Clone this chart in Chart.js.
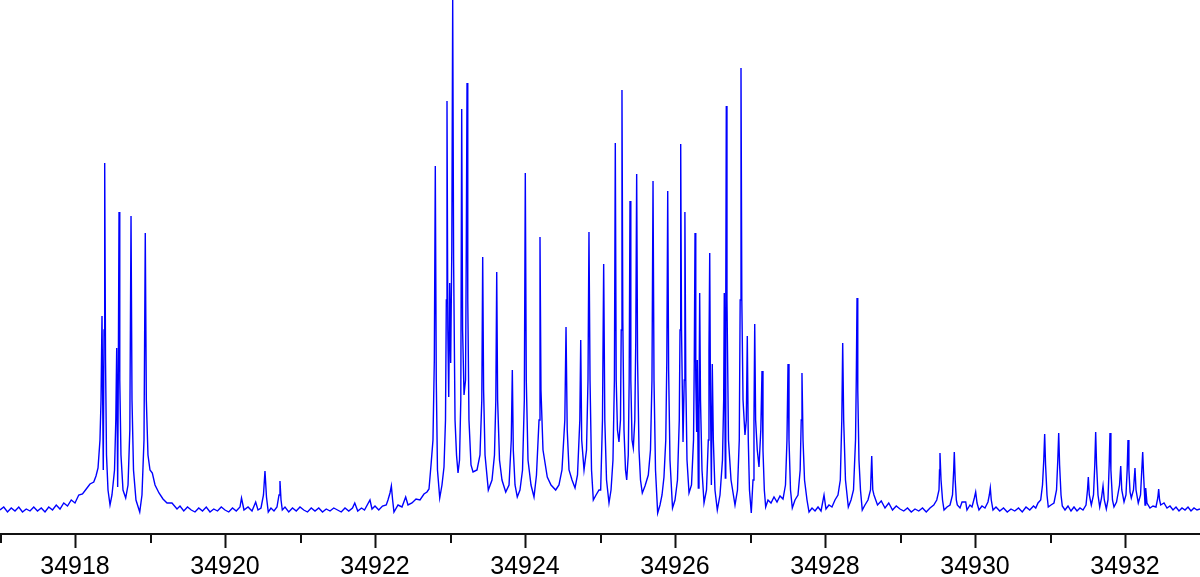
<!DOCTYPE html>
<html>
<head>
<meta charset="utf-8">
<script src="https://cdn.jsdelivr.net/npm/chart.js@4"></script>
<style>
  html, body { margin: 0; padding: 0; background: #fff; }
  #wrap { width: 1200px; height: 577px; position: relative; }
</style>
</head>
<body>
<div id="wrap"><canvas id="chart"></canvas></div>
<script>
// wavenumber (cm-1), intensity (a.u.)
const band1 = [
  [34917.00,24],[34917.05,27],[34917.10,22],[34917.15,26],[34917.20,23],[34917.25,27],[34917.30,22],
  [34917.35,25],[34917.40,23],[34917.45,27],[34917.50,23],[34917.55,26],[34917.60,22],[34917.65,27],
  [34917.70,24],[34917.75,29],[34917.80,25],[34917.85,31],[34917.90,28],[34917.95,34],[34918.00,31],
  [34918.05,39],[34918.10,40],[34918.15,45],[34918.20,50],[34918.25,52],[34918.280,58],[34918.307,66],
  [34918.333,94],[34918.347,134],[34918.360,218],[34918.377,64],[34918.387,204],[34918.396,371],
  [34918.407,174],[34918.420,79],[34918.440,44],[34918.467,29],[34918.493,39],[34918.527,64],
  [34918.544,114],[34918.556,186],[34918.569,47],[34918.577,154],[34918.587,322],[34918.597,154],
  [34918.613,79],[34918.640,44],[34918.676,36],[34918.707,49],[34918.731,104],[34918.747,318],
  [34918.760,134],[34918.780,64],[34918.813,34],[34918.863,22],[34918.893,39],[34918.920,94],
  [34918.937,301],[34918.951,134],[34918.973,79],[34919.000,64],[34919.031,61],[34919.067,49],
  [34919.120,41],[34919.173,35],[34919.227,31],[34919.293,31],[34919.360,25],[34919.40,28],
  [34919.45,23],[34919.50,27],[34919.55,24],[34919.60,22],[34919.65,26],[34919.70,23],[34919.75,27],
  [34919.80,22],[34919.85,25],[34919.90,23],[34919.95,27],[34920.00,24],[34920.05,22],[34920.10,26],
  [34920.15,23],[34920.20,27],[34920.22,36]
];

const band2 = [
  [34920.253,24],[34920.307,27],[34920.360,23],[34920.409,32],[34920.440,24],[34920.480,26],
  [34920.513,39],[34920.533,63],[34920.553,37],[34920.577,22],[34920.613,26],[34920.653,23],
  [34920.693,27],[34920.720,39],[34920.733,53],[34920.747,34],[34920.764,24],[34920.80,27],
  [34920.85,22],[34920.90,26],[34920.95,23],[34921.00,27],[34921.05,24],[34921.10,22],[34921.15,26],
  [34921.20,23],[34921.25,26],[34921.30,22],[34921.35,25],[34921.40,23],[34921.45,26],[34921.50,24],
  [34921.55,22],[34921.60,26],[34921.65,23],[34921.70,26],[34921.73,31],[34921.77,23],[34921.82,26],
  [34921.86,24],[34921.933,34],[34921.96,25],[34922.00,28],[34922.05,24],[34922.10,28],[34922.15,29],
  [34922.173,34],[34922.200,41],[34922.218,48],[34922.235,34],[34922.253,22],[34922.307,29],
  [34922.360,27],[34922.409,37],[34922.440,29],[34922.493,31],[34922.547,35],[34922.600,34],
  [34922.653,40],[34922.693,42],[34922.720,45]
];

const band3 = [
  [34922.747,69],[34922.773,94],[34922.791,174],[34922.804,368],[34922.817,154],[34922.833,64],
  [34922.863,36],[34922.893,49],[34922.920,67],[34922.940,114],[34922.951,234],[34922.960,433],
  [34922.971,204],[34922.983,137],[34922.996,251],[34923.009,171],[34923.024,284],[34923.036,534],
  [34923.048,274],[34923.067,114],[34923.087,79],[34923.107,61],[34923.127,74],[34923.144,134],
  [34923.156,425],[34923.168,204],[34923.187,139],[34923.207,154],[34923.217,284],[34923.227,451],
  [34923.237,234],[34923.253,114],[34923.280,69],[34923.307,62],[34923.360,64],[34923.400,79],
  [34923.424,134],[34923.436,277],[34923.448,144],[34923.467,79],[34923.511,44],[34923.560,54],
  [34923.593,79],[34923.611,134],[34923.623,262],[34923.635,134],[34923.660,74],[34923.693,54],
  [34923.743,42],[34923.787,49],[34923.817,94],[34923.831,164],[34923.844,84],[34923.867,49],
  [34923.897,37],[34923.933,44],[34923.967,64],[34923.991,134],[34924.004,361],[34924.017,154],
  [34924.040,74],[34924.080,49],[34924.120,37],[34924.153,59],[34924.187,114],[34924.200,297],
  [34924.213,144],[34924.240,84],[34924.297,57],[34924.347,49],[34924.409,44],[34924.453,49],
  [34924.493,64],[34924.531,114],[34924.547,207],[34924.563,104],[34924.587,64],[34924.627,54],
  [34924.667,46],[34924.700,59],[34924.731,114],[34924.743,194],[34924.756,94],[34924.787,64],
  [34924.820,84],[34924.840,154],[34924.853,302],[34924.867,154],[34924.887,64],[34924.911,34],
  [34924.947,39],[34924.987,44]
];

const band4 = [
  [34925.009,44],[34925.033,114],[34925.049,270],[34925.064,114],[34925.087,54],[34925.120,31],
  [34925.147,44],[34925.173,74],[34925.192,154],[34925.204,391],[34925.216,154],[34925.233,104],
  [34925.253,92],[34925.273,114],[34925.283,204],[34925.293,444],[34925.304,214],[34925.320,104],
  [34925.340,64],[34925.356,54],[34925.377,79],[34925.389,154],[34925.400,333],[34925.411,154],
  [34925.427,94],[34925.444,86],[34925.464,114],[34925.477,194],[34925.489,360],[34925.501,174],
  [34925.520,84],[34925.540,54],[34925.564,41],[34925.600,48],[34925.644,59],[34925.673,84],
  [34925.693,154],[34925.707,353],[34925.720,154],[34925.740,64],[34925.769,21],[34925.800,29],
  [34925.827,39],[34925.853,57],[34925.877,94],[34925.891,174],[34925.903,343],[34925.915,164],
  [34925.933,74],[34925.967,26],[34926.000,34],[34926.033,54],[34926.057,114],[34926.067,204],
  [34926.076,390],[34926.087,204],[34926.107,92],[34926.123,154],[34926.132,322],[34926.144,154],
  [34926.160,74],[34926.187,41],[34926.220,49],[34926.247,94],[34926.257,174],[34926.267,301],
  [34926.277,154],[34926.289,102],[34926.297,174],[34926.311,46],[34926.320,114],[34926.329,241],
  [34926.340,134],[34926.360,64],[34926.387,31],[34926.420,44],[34926.444,94],[34926.453,184],
  [34926.463,281],[34926.473,134],[34926.485,49],[34926.497,170],[34926.511,94],[34926.533,44],
  [34926.564,24],[34926.600,39],[34926.633,74],[34926.649,134],[34926.657,241],[34926.671,56],
  [34926.677,234],[34926.684,428],[34926.693,234],[34926.713,94],[34926.747,54],[34926.800,29],
  [34926.833,44],[34926.857,94],[34926.869,234],[34926.880,466],[34926.891,234],[34926.907,134],
  [34926.933,99],[34926.951,114],[34926.964,198],[34926.977,94],[34926.993,44],[34927.017,21],
  [34927.040,54],[34927.053,114],[34927.063,210],[34927.075,114],[34927.097,84],[34927.120,67],
  [34927.144,104],[34927.160,163],[34927.173,84],[34927.191,44],[34927.209,27],[34927.240,34],
  [34927.280,31]
];

const band5 = [
  [34927.320,37],[34927.360,32],[34927.400,38],[34927.440,35],[34927.473,49],[34927.493,94],
  [34927.507,170],[34927.520,94],[34927.540,44],[34927.564,26],[34927.600,34],[34927.640,39],
  [34927.669,64],[34927.683,114],[34927.693,161],[34927.707,94],[34927.727,54],[34927.760,34],
  [34927.787,22],[34927.827,26],[34927.867,23],[34927.907,27],[34927.947,23],[34927.987,39],
  [34928.013,25],[34928.053,29],[34928.093,27],[34928.133,34],[34928.173,39],[34928.204,54],
  [34928.224,114],[34928.236,191],[34928.249,114],[34928.273,54],[34928.311,27],[34928.347,34],
  [34928.380,44],[34928.407,94],[34928.417,154],[34928.427,236],[34928.437,144],[34928.453,74],
  [34928.473,44],[34928.497,24],[34928.533,29],[34928.573,34],[34928.607,44],[34928.623,78],
  [34928.637,44],[34928.653,39],[34928.70,29],[34928.75,33],[34928.80,26],[34928.85,31],
  [34928.90,24],[34928.95,28],[34929.00,25],[34929.05,23],[34929.10,26],[34929.15,22],[34929.20,25],
  [34929.25,23],[34929.30,26],[34929.35,22],[34929.40,26],[34929.45,29],[34929.49,34],[34929.52,44]
];

const band6 = [
  [34929.527,64],[34929.533,81],[34929.547,54],[34929.567,34],[34929.587,24],[34929.627,27],
  [34929.667,29],[34929.700,39],[34929.716,64],[34929.724,82],[34929.736,54],[34929.751,34],
  [34929.764,29],[34929.800,26],[34929.827,32],[34929.876,32],[34929.893,24],[34929.933,29],
  [34929.960,27],[34929.991,36],[34930.009,42],[34930.027,31],[34930.053,24],[34930.093,28],
  [34930.133,26],[34930.173,32],[34930.191,39],[34930.204,46],[34930.217,34],[34930.240,24],
  [34930.280,27],[34930.33,23],[34930.38,26],[34930.43,22],[34930.48,25],[34930.53,23],[34930.58,26],
  [34930.63,22],[34930.68,27],[34930.73,24],[34930.78,28],[34930.81,26],[34930.840,31],[34930.876,34],
  [34930.900,49],[34930.917,74],[34930.929,100],[34930.941,69],[34930.960,39],[34930.977,27],
  [34931.013,29],[34931.053,31],[34931.087,44],[34931.104,74],[34931.116,101],[34931.128,69],
  [34931.147,39],[34931.164,28],[34931.200,24],[34931.240,28],[34931.280,23],[34931.320,27],
  [34931.360,23],[34931.400,26],[34931.440,24],[34931.480,29],[34931.500,44],[34931.511,57],
  [34931.524,39],[34931.551,29],[34931.580,39],[34931.597,69],[34931.609,102],[34931.621,69],
  [34931.640,39],[34931.663,27],[34931.687,36],[34931.707,48],[34931.724,34],[34931.751,25],
  [34931.773,34],[34931.789,69],[34931.800,101],[34931.812,64],[34931.833,34],[34931.853,27],
  [34931.887,32],[34931.927,49],[34931.943,68],[34931.957,44],[34931.987,32],[34932.013,39],
  [34932.029,64],[34932.040,94],[34932.052,64],[34932.067,42],[34932.084,36],[34932.113,44],
  [34932.133,66],[34932.147,44],[34932.177,31],[34932.207,39],[34932.224,64],[34932.236,82],
  [34932.248,59],[34932.267,29],[34932.276,46],[34932.293,31],[34932.333,26],[34932.373,28],
  [34932.413,27],[34932.437,36],[34932.449,45],[34932.461,34],[34932.476,29],[34932.52,31],
  [34932.56,26],[34932.60,28],[34932.64,24],[34932.68,27],[34932.72,23],[34932.76,26],[34932.80,24],
  [34932.84,27],[34932.88,23],[34932.92,26],[34932.96,24],[34933.00,25]
];

const xMin = 34917, xMax = 34933;
const yMax = 534;

const points = [...band1, ...band2, ...band3, ...band4, ...band5, ...band6]
  .map(([x, y]) => ({ x: x, y: y }));

// short ticks on the odd wavenumbers
const minorTicks = {
  id: "minorTicks",
  afterDraw(chart) {
    const scale = chart.scales.x;
    const c = chart.ctx;
    c.save();
    c.strokeStyle = "#111";
    c.lineWidth = 2;
    for (let v = xMin; v <= xMax; v++) {
      if (v % 2 === 0) continue;
      const px = Math.round(scale.getPixelForValue(v)) + 1;
      c.beginPath();
      c.moveTo(px, scale.top);
      c.lineTo(px, scale.top + 9);
      c.stroke();
    }
    c.restore();
  }
};

const config = {
  type: "line",
  data: {
    datasets: [{
      data: points,
      borderColor: "#0000ff",
      borderWidth: 1.4,
      pointRadius: 0,
      tension: 0,
      fill: false,
      clip: false
    }]
  },
  options: {
    responsive: true,
    maintainAspectRatio: false,
    animation: false,
    layout: { padding: 0 },
    plugins: { legend: { display: false }, tooltip: { enabled: false } },
    scales: {
      x: {
        type: "linear",
        min: xMin,
        max: xMax,
        afterFit: (scale) => { scale.height = 43; },
        border: { display: true, color: "#111", width: 2 },
        grid: {
          drawOnChartArea: false,
          drawTicks: true,
          tickLength: 14,
          tickWidth: 2,
          tickColor: (ctx) => (ctx.tick && ctx.tick.value % 2 === 0) ? "#111" : "rgba(0,0,0,0)"
        },
        ticks: {
          stepSize: 1,
          autoSkip: false,
          maxRotation: 0,
          padding: 0,
          color: "#000",
          font: { family: "'Liberation Sans', Arial, sans-serif", size: 25, lineHeight: 1.56 },
          callback: (v) => (v % 2 === 0 ? String(v) : "")
        }
      },
      y: {
        display: false,
        min: 0,
        max: yMax
      }
    }
  },
  plugins: [minorTicks]
};

new Chart(document.getElementById("chart").getContext("2d"), config);
</script>
</body>
</html>
